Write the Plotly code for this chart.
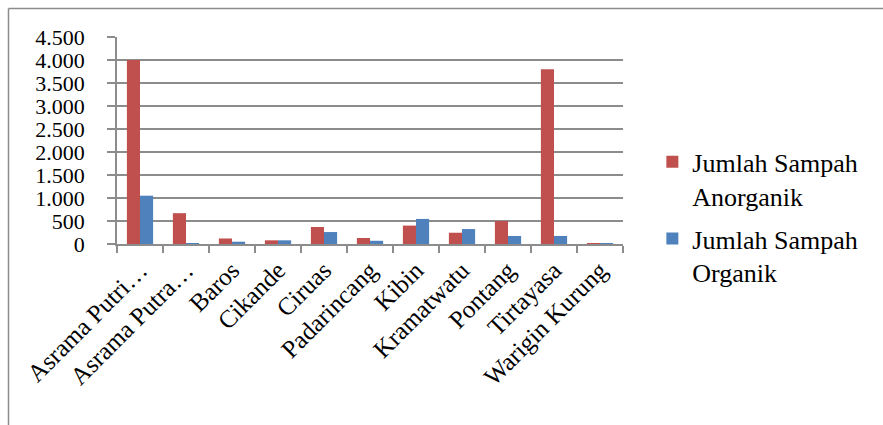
import plotly.graph_objects as go

categories = ["Asrama Putri…", "Asrama Putra…", "Baros", "Cikande", "Ciruas",
              "Padarincang", "Kibin", "Kramatwatu", "Pontang", "Tirtayasa", "Warigin Kurung"]
anorganik = [4000, 670, 120, 80, 370, 130, 400, 245, 500, 3800, 15]
organik = [1050, 15, 50, 80, 260, 70, 545, 325, 175, 175, 12]

tick_vals = [0, 500, 1000, 1500, 2000, 2500, 3000, 3500, 4000, 4500]

RED = "#C0504D"
BLUE = "#4F81BD"
GRID = "#8C8C8C"
FONT = "Liberation Serif"

fig = go.Figure()
fig.add_trace(go.Bar(x=categories, y=anorganik, name="Jumlah Sampah<br>Anorganik",
                     marker=dict(color=RED, line=dict(width=0)), legendgroup="a"))
fig.add_trace(go.Bar(x=categories, y=organik, name="Jumlah Sampah<br>Organik",
                     marker=dict(color=BLUE, line=dict(width=0)), legendgroup="b"))

L, R, T, B = 117, 260, 37, 181
W, H = 883, 425
pw = W - L - R
ph = H - T - B

def px_x(px):
    return (px - L) / pw

def px_y(py):
    return (H - B - py) / ph

fig.update_layout(
    width=W, height=H,
    margin=dict(l=L, r=R, t=T, b=B, pad=0),
    paper_bgcolor="white", plot_bgcolor="white",
    separators=",.",
    barmode="group", bargap=0.43, bargroupgap=0,
    font=dict(family=FONT, size=24, color="black"),
    showlegend=True,
    legend=dict(x=1.058, y=0.51, xanchor="left", yanchor="top", valign="top",
                font=dict(family=FONT, size=26, color="black"),
                tracegroupgap=6, itemwidth=30, bgcolor="rgba(0,0,0,0)"),
    xaxis=dict(type="category", showline=True, linecolor=GRID, linewidth=1.5,
               ticks="outside", tickson="boundaries", ticklen=7, tickcolor=GRID,
               tickwidth=1.5, tickangle=-45, showgrid=False,
               tickfont=dict(family=FONT, size=25, color="black")),
    yaxis=dict(range=[0, 4500], tickvals=tick_vals, tickformat=",", showgrid=True,
               gridcolor=GRID, gridwidth=1.5, showline=True, linecolor=GRID,
               linewidth=1.5, ticks="outside", ticklen=8, tickcolor=GRID, tickwidth=1.5,
               zeroline=False, ticklabelstandoff=18,
               tickfont=dict(family=FONT, size=22, color="black")),
    shapes=[
        dict(type="line", xref="paper", yref="paper",
             x0=px_x(8.5), x1=px_x(8.5), y0=px_y(8.5), y1=px_y(440),
             line=dict(color=GRID, width=1.5)),
        dict(type="line", xref="paper", yref="paper",
             x0=px_x(8.5), x1=px_x(895), y0=px_y(8.5), y1=px_y(8.5),
             line=dict(color=GRID, width=1.5)),
    ],
)

fig.write_html("out.html")
